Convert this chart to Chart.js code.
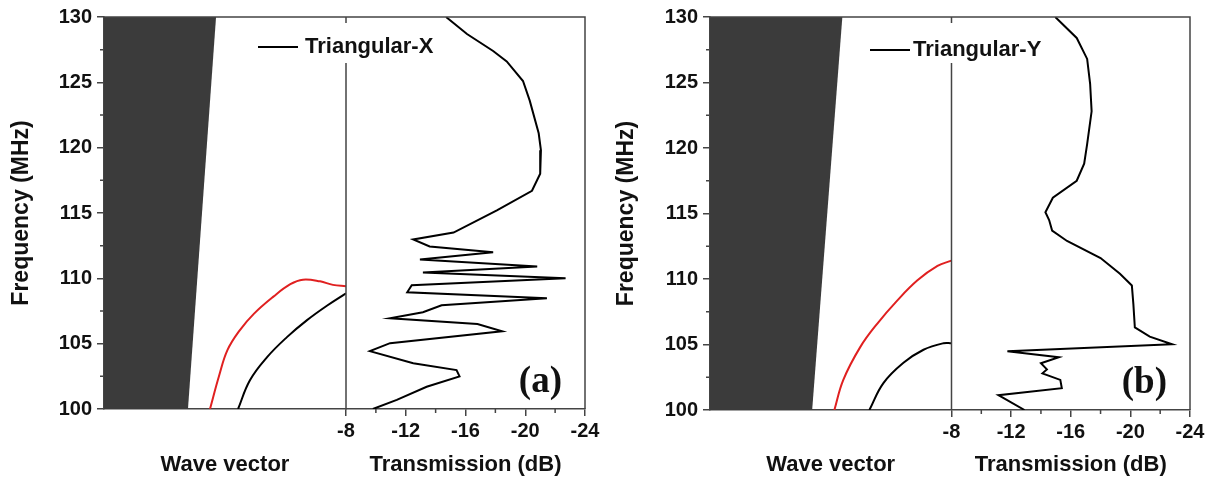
<!DOCTYPE html>
<html>
<head>
<meta charset="utf-8">
<script src="https://cdn.jsdelivr.net/npm/chart.js@4.4.0/dist/chart.umd.min.js"></script>
<style>
  body { margin: 0; background: #fff; width: 1215px; height: 481px; overflow: hidden; position: relative; }
  .panel { position: absolute; top: 0; height: 481px; }
</style>
</head>
<body>
<div class="panel" style="left:0;width:605px"><canvas id="chartA" width="605" height="481"></canvas></div>
<div class="panel" style="left:605px;width:610px"><canvas id="chartB" width="610" height="481"></canvas></div>
<script>
// minor tick positions
var freqMinor = [102.5, 107.5, 112.5, 117.5, 122.5, 127.5];
var dbMinor = [-10, -14, -18, -22];

// (a) Triangular-X : band diagram (wave vector 0..1, frequency MHz)
var bandKA = [0, 0.463, 0.347, 0];
var bandFA = [130, 130, 100, 100];
var redKA = [0.438, 0.475, 0.51, 0.56, 0.62, 0.70, 0.77, 0.822, 0.893, 0.946, 1.0];
var redFA = [100, 102.5, 104.5, 106.0, 107.3, 108.6, 109.55, 109.9, 109.77, 109.5, 109.4];
var blackKA = [0.554, 0.603, 0.674, 0.756, 0.839, 0.921, 1.0];
var blackFA = [100, 102.2, 103.97, 105.5, 106.8, 107.9, 108.85];

// (a) transmission (dB) vs frequency (MHz)
var transFA = [130, 128.7, 127.4, 126.6, 125.1, 123.6, 121.1, 119.8, 118.0, 116.7, 115.2, 113.5,
  112.98, 112.44, 112.0, 111.45, 110.9, 110.45, 110.0, 109.47, 108.93, 108.47, 107.94, 107.4,
  106.95, 106.5, 105.95, 105.04, 104.43, 103.5, 102.98, 102.5, 101.7, 100.7, 100.0];
var transDbA = [-14.7, -16.1, -17.85, -18.76, -19.85, -20.3, -20.9, -21.05, -21.0, -20.45, -18.1, -15.2,
  -12.5, -13.6, -17.85, -12.95, -20.8, -13.15, -22.7, -12.4, -12.1, -21.45, -14.4, -13.15,
  -10.95, -16.8, -18.45, -10.95, -9.6, -12.5, -15.4, -15.6, -13.4, -11.4, -9.8];

// (b) Triangular-Y : band diagram
var bandKB = [0, 0.548, 0.423, 0];
var bandFB = [130, 130, 100, 100];
var redKB = [0.515, 0.552, 0.622, 0.693, 0.776, 0.859, 0.942, 1.0];
var redFB = [100, 102.3, 104.8, 106.6, 108.37, 109.9, 111.0, 111.4];
var blackKB = [0.66, 0.718, 0.801, 0.884, 0.967, 1.0];
var blackFB = [100, 102.05, 103.6, 104.6, 105.1, 105.1];

// (b) transmission
var transFB = [130, 128.4, 126.8, 124.9, 122.8, 120.3, 118.8, 117.5, 116.2, 115.1, 114.5, 113.7,
  112.9, 111.6, 110.4, 109.5, 108.1, 106.3, 105.6, 105.02, 104.49, 104.03, 103.57, 103.1,
  102.8, 102.3, 101.67, 101.13, 100.0];
var transDbB = [-14.96, -16.4, -17.1, -17.3, -17.4, -17.1, -16.9, -16.4, -14.8, -14.3, -14.55, -14.75,
  -15.75, -18.0, -19.3, -20.1, -20.2, -20.3, -21.3, -22.8, -11.75, -15.2, -14.0, -14.4,
  -14.1, -15.3, -15.4, -11.15, -12.9];

Chart.defaults.font.family = "'Liberation Sans', Arial, sans-serif";
Chart.defaults.color = '#111';

function pts(xs, ys) {
  var out = [];
  for (var i = 0; i < xs.length; i++) out.push({x: xs[i], y: ys[i]});
  return out;
}

// frame, divider, minor ticks, legend and panel tag
var frame = {
  id: 'frame',
  afterDatasetsDraw: function(chart, args, o) {
    var ctx = chart.ctx, a = chart.chartArea;
    var ys = chart.scales.y, db = chart.scales.db;
    ctx.save();
    ctx.strokeStyle = '#444';
    ctx.lineWidth = 1.5;
    ctx.beginPath();
    ctx.moveTo(a.left, a.top); ctx.lineTo(a.right, a.top); ctx.lineTo(a.right, a.bottom);
    ctx.moveTo(db.left, a.top); ctx.lineTo(db.left, a.bottom);
    freqMinor.forEach(function(v) {
      var p = ys.getPixelForValue(v);
      ctx.moveTo(a.left - 4, p); ctx.lineTo(a.left, p);
    });
    dbMinor.forEach(function(v) {
      var p = db.getPixelForValue(v);
      ctx.moveTo(p, a.bottom); ctx.lineTo(p, a.bottom + 4);
    });
    ctx.stroke();

    // legend for the transmission trace
    var ds = chart.data.datasets[o.legendIndex];
    ctx.font = 'bold 22px ' + Chart.defaults.font.family;
    var tw = ctx.measureText(ds.label).width;
    ctx.fillStyle = '#fff';
    ctx.fillRect(o.legendX - 6, 23, 40 + o.legendGap + tw + 12, 40);
    ctx.strokeStyle = '#000';
    ctx.lineWidth = 2;
    ctx.beginPath();
    ctx.moveTo(o.legendX, o.legendY); ctx.lineTo(o.legendX + 40, o.legendY);
    ctx.stroke();
    ctx.fillStyle = '#111';
    ctx.textBaseline = 'alphabetic';
    ctx.textAlign = 'left';
    ctx.fillText(ds.label, o.legendX + 40 + o.legendGap, o.legendY + 6);

    ctx.font = 'bold 37px "Liberation Serif", "Times New Roman", serif';
    ctx.textAlign = 'right';
    ctx.fillText(o.tag, a.right - 23, a.bottom - 17);
    ctx.restore();
  }
};

function makeChart(id, band, red, black, trans, label, yWidth, bottom, legend) {
  return new Chart(document.getElementById(id), {
    type: 'line',
    data: {
      datasets: [
        {data: band, xAxisID: 'kx', fill: 'shape', backgroundColor: '#3b3b3b', borderWidth: 0, pointRadius: 0},
        {data: red, xAxisID: 'kx', borderColor: '#e02020', borderWidth: 2, pointRadius: 0, tension: 0.4},
        {data: black, xAxisID: 'kx', borderColor: '#000', borderWidth: 2, pointRadius: 0, tension: 0.4},
        {label: label, data: trans, xAxisID: 'db', borderColor: '#000', borderWidth: 2, pointRadius: 0, tension: 0}
      ]
    },
    options: {
      responsive: false,
      animation: false,
      layout: {padding: {top: 16, right: legend.padRight, left: 0, bottom: 0}},
      plugins: {
        legend: {display: false},
        tooltip: {enabled: false},
        frame: legend
      },
      scales: {
        kx: {
          type: 'linear', position: 'bottom', stack: 'x', stackWeight: 242,
          min: 0, max: 1,
          grid: {display: false},
          border: {display: true, color: '#444', width: 1.5},
          ticks: {display: false},
          title: {display: true, text: 'Wave vector', font: {size: 22, weight: 'bold'}, padding: {top: 0, bottom: 3}},
          afterFit: function(s) { s.height = 481 - bottom; }
        },
        db: {
          type: 'linear', position: 'bottom', stack: 'x', stackWeight: 239,
          min: -24, max: -8, reverse: true,
          grid: {drawOnChartArea: false, drawTicks: true, tickLength: 7, color: '#444', lineWidth: 1.5},
          border: {display: true, color: '#444', width: 1.5},
          ticks: {stepSize: 4, padding: 3, font: {size: 20, weight: 'bold'}, color: '#111', maxRotation: 0, autoSkip: false},
          title: {display: true, text: 'Transmission (dB)', font: {size: 22, weight: 'bold'}, padding: {top: 0, bottom: 3}},
          afterFit: function(s) { s.height = 481 - bottom; }
        },
        y: {
          type: 'linear', position: 'left',
          min: 100, max: 130,
          grid: {drawOnChartArea: false, drawTicks: true, tickLength: 7, color: '#444', lineWidth: 1.5},
          border: {display: true, color: '#444', width: 1.5},
          ticks: {stepSize: 5, padding: 5, font: {size: 20, weight: 'bold'}, color: '#111'},
          title: {display: true, text: 'Frequency (MHz)', font: {size: 23, weight: 'bold'}, padding: {top: 8, bottom: 0}},
          afterFit: function(s) { s.width = yWidth; }
        }
      }
    },
    plugins: [frame]
  });
}

makeChart('chartA', pts(bandKA, bandFA), pts(redKA, redFA), pts(blackKA, blackFA),
  pts(transDbA, transFA), 'Triangular-X', 104, 409,
  {legendIndex: 3, legendX: 258, legendY: 47, legendGap: 7, tag: '(a)', padRight: 20});

makeChart('chartB', pts(bandKB, bandFB), pts(redKB, redFB), pts(blackKB, blackFB),
  pts(transDbB, transFB), 'Triangular-Y', 105, 410,
  {legendIndex: 3, legendX: 265, legendY: 50, legendGap: 3, tag: '(b)', padRight: 25});
</script>
</body>
</html>
